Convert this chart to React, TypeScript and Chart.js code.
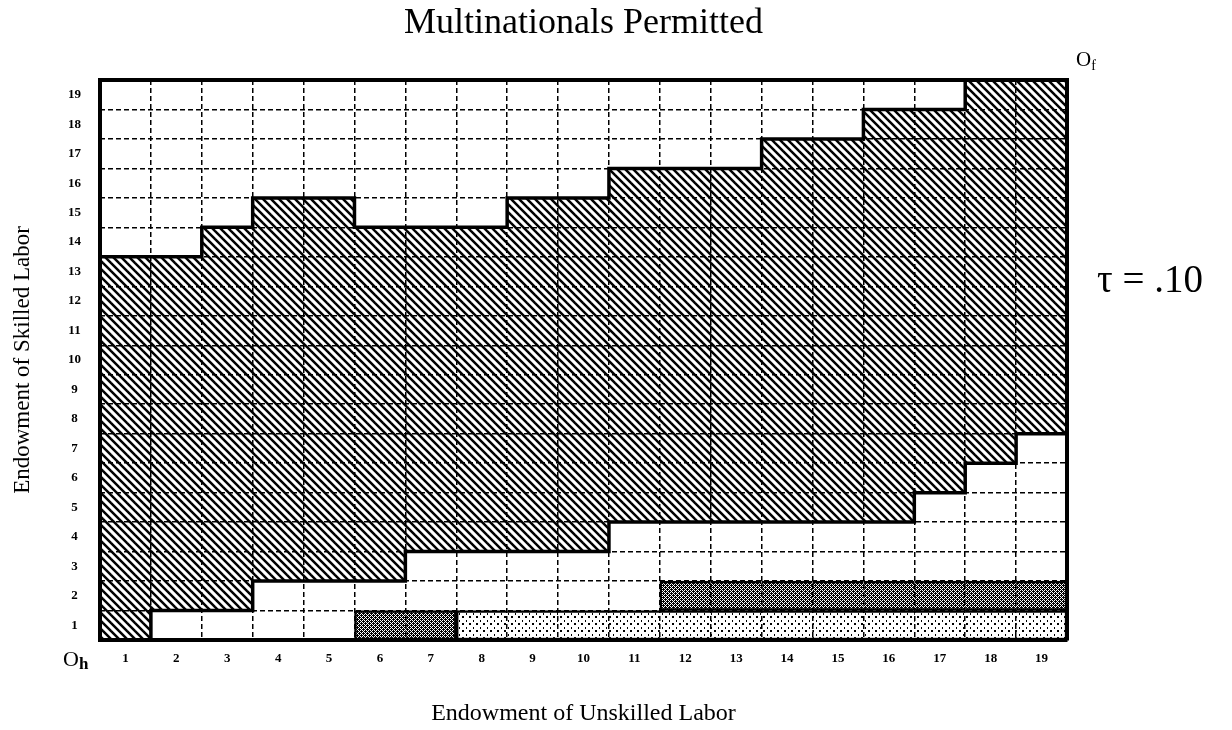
import { useEffect, useRef } from 'react';
import { Chart, registerables } from 'chart.js';

Chart.register(...registerables);

const FONT = "'Liberation Serif', 'Times New Roman', serif";

const TITLE = 'Multinationals Permitted';
const X_TITLE = 'Endowment of Unskilled Labor';
const Y_TITLE = 'Endowment of Skilled Labor';
const TAU_LABEL = 'τ = .10';
const HOME_ORIGIN = ['O', 'h'];
const FOREIGN_ORIGIN = ['O', 'f'];

// Unskilled-labour endowment (columns) and skilled-labour endowment (rows)
const COLUMNS = [1, 2, 3, 4, 5, 6, 7, 8, 9, 10, 11, 12, 13, 14, 15, 16, 17, 18, 19];
const ROWS = [1, 2, 3, 4, 5, 6, 7, 8, 9, 10, 11, 12, 13, 14, 15, 16, 17, 18, 19];

// Highest and lowest hatched row in each column
const HATCH_TOP = [13, 13, 14, 15, 15, 14, 14, 14, 15, 15, 16, 16, 16, 17, 17, 18, 18, 19, 19];
const HATCH_BOTTOM = [1, 2, 2, 3, 3, 3, 4, 4, 4, 4, 5, 5, 5, 5, 5, 5, 6, 7, 8];

// Row of the dark-dotted cell in each column (null = none)
const DARK_ROW = [null, null, null, null, null, 1, 1, null, null, null, null, 2, 2, 2, 2, 2, 2, 2, 2];
// Row of the light-dotted cell in each column (null = none)
const LIGHT_ROW = [null, null, null, null, null, null, null, 1, 1, 1, 1, 1, 1, 1, 1, 1, 1, 1, 1];

const DASH = [5, 3];
const THICK = 3.5;
const BAR_EDGE = 2.5;
const TITLE_SIZE = 36;

function tile(size: number, draw: (g: CanvasRenderingContext2D, s: number) => void) {
  const c = document.createElement('canvas');
  c.width = size;
  c.height = size;
  const g = c.getContext('2d') as CanvasRenderingContext2D;
  draw(g, size);
  return c;
}

function stepPoints(rows: number[], offset: number) {
  const pts = COLUMNS.map((c, i) => ({ x: c - 0.5, y: rows[i] + offset }));
  pts.push({ x: COLUMNS[COLUMNS.length - 1] + 0.5, y: rows[rows.length - 1] + offset });
  return pts;
}

export default function App() {
  const ref = useRef<HTMLCanvasElement | null>(null);

  useEffect(() => {
    const canvas = ref.current;
    if (!canvas) return;
    const ctx = canvas.getContext('2d') as CanvasRenderingContext2D;

    const hatch = ctx.createPattern(
      tile(8, (g, s) => {
        g.strokeStyle = '#000';
        g.lineWidth = 2.5;
        for (let k = -1; k <= 1; k++) {
          g.beginPath();
          g.moveTo(-1, -1 + k * s);
          g.lineTo(s + 1, s + 1 + k * s);
          g.stroke();
        }
      }),
      'repeat'
    ) as CanvasPattern;

    const dark = ctx.createPattern(
      tile(4, (g, s) => {
        g.fillStyle = '#fff';
        g.fillRect(0, 0, s, s);
        g.fillStyle = '#000';
        for (let x = 0; x < s; x++) {
          for (let y = 0; y < s; y++) {
            const white = (x - y + 4) % 4 === 0 || (x + y) % 4 === 2;
            if (!white) g.fillRect(x, y, 1, 1);
          }
        }
      }),
      'repeat'
    ) as CanvasPattern;

    const light = ctx.createPattern(
      tile(7, (g) => {
        g.fillStyle = '#fff';
        g.fillRect(0, 0, 7, 7);
        g.fillStyle = '#000';
        g.fillRect(0, 0, 2, 2);
        g.fillRect(4, 4, 1, 2);
      }),
      'repeat'
    ) as CanvasPattern;

    const edges = (c: any) => {
      const arr = c.dataset.data;
      const i = c.dataIndex;
      return {
        top: BAR_EDGE,
        bottom: BAR_EDGE,
        left: arr[i - 1] ? 0 : BAR_EDGE,
        right: arr[i + 1] ? 0 : BAR_EDGE,
      };
    };

    const cornerLabels = {
      id: 'cornerLabels',
      afterDraw(chart: any) {
        const a = chart.chartArea;
        const g = chart.ctx as CanvasRenderingContext2D;
        g.save();
        g.fillStyle = '#000';
        g.textBaseline = 'alphabetic';
        g.textAlign = 'left';
        // home origin
        g.font = `22px ${FONT}`;
        g.fillText(HOME_ORIGIN[0], a.left - 37, a.bottom + 26);
        const wO = g.measureText(HOME_ORIGIN[0]).width;
        g.font = `bold 17px ${FONT}`;
        g.fillText(HOME_ORIGIN[1], a.left - 37 + wO, a.bottom + 29);
        // foreign origin
        g.font = `21px ${FONT}`;
        g.fillText(FOREIGN_ORIGIN[0], a.right + 9, a.top - 14);
        const wF = g.measureText(FOREIGN_ORIGIN[0]).width;
        g.font = `14px ${FONT}`;
        g.fillText(FOREIGN_ORIGIN[1], a.right + 9 + wF, a.top - 10);
        // tau
        g.font = `39px ${FONT}`;
        g.fillText(TAU_LABEL, a.right + 30, a.top + 212);
        g.restore();
      },
    };

    const tickFont = { family: FONT, size: 13, weight: 'bold' as const };

    const chart = new Chart(ctx, {
      type: 'bar',
      data: {
        labels: COLUMNS.map(String),
        datasets: [
          {
            type: 'line',
            label: 'upper',
            data: stepPoints(HATCH_TOP, 0.5),
            xAxisID: 'x2',
            yAxisID: 'y',
            stepped: true,
            borderColor: '#000',
            borderWidth: THICK,
            pointRadius: 0,
            fill: '+1',
            backgroundColor: hatch,
          } as any,
          {
            type: 'line',
            label: 'lower',
            data: stepPoints(HATCH_BOTTOM, -0.5),
            xAxisID: 'x2',
            yAxisID: 'y',
            stepped: true,
            borderColor: '#000',
            borderWidth: THICK,
            pointRadius: 0,
            fill: false,
          } as any,
          {
            type: 'bar',
            label: 'dark',
            data: DARK_ROW.map((r) => (r == null ? null : [r - 0.5, r + 0.5])),
            xAxisID: 'x',
            yAxisID: 'y',
            backgroundColor: dark,
            borderColor: '#000',
            borderWidth: edges,
            borderSkipped: false,
            grouped: false,
            barPercentage: 1,
            categoryPercentage: 1,
          } as any,
          {
            type: 'bar',
            label: 'light',
            data: LIGHT_ROW.map((r) => (r == null ? null : [r - 0.5, r + 0.5])),
            xAxisID: 'x',
            yAxisID: 'y',
            backgroundColor: light,
            borderColor: '#000',
            borderWidth: edges,
            borderSkipped: false,
            grouped: false,
            barPercentage: 1,
            categoryPercentage: 1,
          } as any,
        ],
      },
      options: {
        responsive: false,
        animation: false,
        events: [],
        layout: { padding: 0 },
        plugins: {
          legend: { display: false },
          tooltip: { enabled: false },
          title: {
            display: true,
            text: TITLE,
            fullSize: false,
            color: '#000',
            font: { family: FONT, size: TITLE_SIZE, weight: 'normal' },
            padding: { top: 2, bottom: 3 },
          },
        },
        scales: {
          x: {
            type: 'category',
            position: 'bottom',
            offset: true,
            grid: { offset: true, color: '#000', lineWidth: 1.5, drawTicks: false, z: 1 },
            border: { display: true, color: '#000', width: 4, dash: DASH, z: 2 },
            ticks: { font: tickFont, color: '#000', padding: 11, maxRotation: 0, autoSkip: false },
            title: {
              display: true,
              text: X_TITLE,
              color: '#000',
              font: { family: FONT, size: 24 },
              padding: { top: 0, bottom: 2 },
            },
            afterFit: (s: any) => {
              s.height = 90;
            },
          },
          x2: {
            type: 'linear',
            position: 'top',
            offset: false,
            min: 0.5,
            max: 19.5,
            grid: { display: false, offset: false },
            ticks: { display: false },
            border: { display: true, color: '#000', width: 4, z: 2 },
            afterFit: (s: any) => {
              s.height = 80 - (TITLE_SIZE * 1.2 + 5);
            },
          },
          y: {
            type: 'linear',
            position: 'left',
            min: 0.5,
            max: 19.5,
            afterBuildTicks: (s: any) => {
              s.ticks = ROWS.map((v) => ({ value: v }));
            },
            grid: { display: false },
            border: { display: true, color: '#000', width: 4, z: 2 },
            ticks: {
              font: tickFont,
              color: '#000',
              padding: 11,
              crossAlign: 'center',
              callback: (v: any) => String(v),
            },
            title: {
              display: true,
              text: Y_TITLE,
              color: '#000',
              font: { family: FONT, size: 23 },
              padding: { top: 9, bottom: 0 },
            },
            afterFit: (s: any) => {
              s.width = 100;
            },
          },
          y2: {
            type: 'linear',
            position: 'right',
            min: 0.5,
            max: 19.5,
            afterBuildTicks: (s: any) => {
              s.ticks = [ROWS[0] - 0.5, ...ROWS.map((v) => v + 0.5)].map((v) => ({ value: v }));
            },
            grid: { color: '#000', lineWidth: 1.5, drawTicks: false, z: 1 },
            border: { display: true, color: '#000', width: 4, dash: DASH, z: 2 },
            ticks: { display: false },
            afterFit: (s: any) => {
              s.width = 165;
            },
          },
        },
      } as any,
      plugins: [cornerLabels],
    });

    return () => chart.destroy();
  }, []);

  return (
    <div style={{ position: 'fixed', left: 0, top: 0, width: 1232, height: 730, background: '#fff' }}>
      <canvas ref={ref} width={1232} height={730} style={{ display: 'block' }} />
    </div>
  );
}
